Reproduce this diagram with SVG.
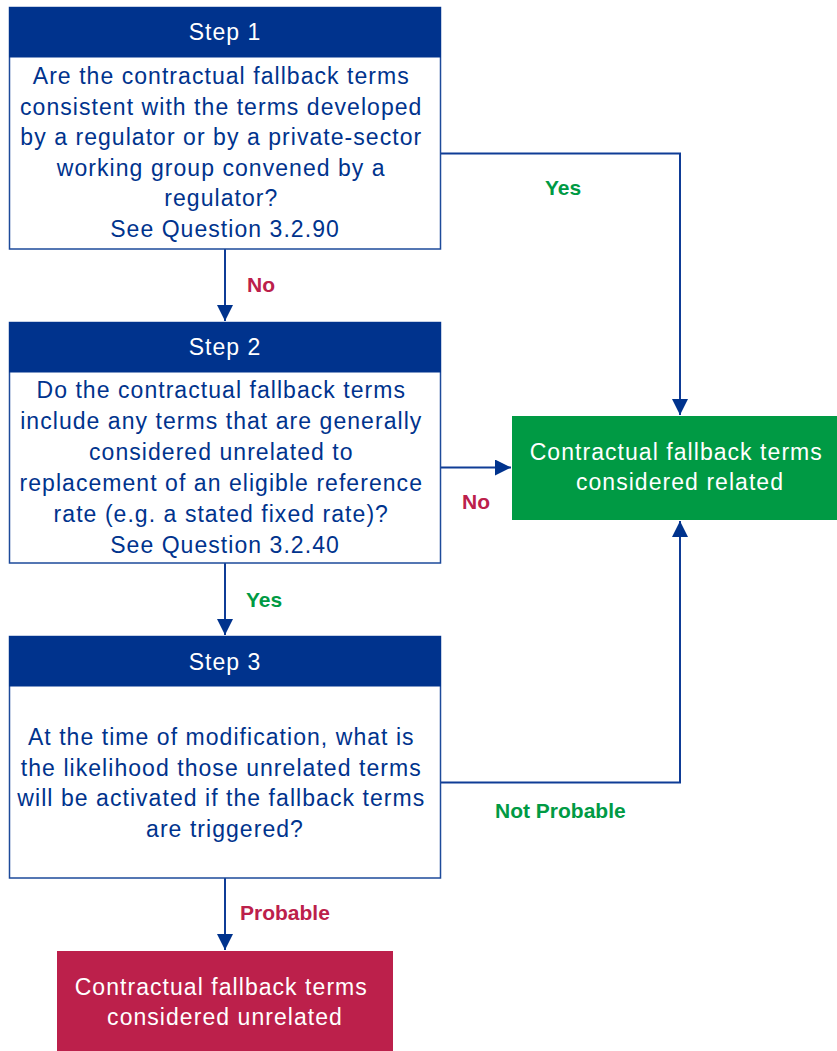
<svg xmlns="http://www.w3.org/2000/svg" width="837" height="1051" viewBox="0 0 837 1051">
  <style>
    .box { fill: #ffffff; stroke: #1d4a9a; stroke-width: 1.5; }
    .head { fill: #00338d; }
    .head-text { font-family: "Liberation Sans", Arial, sans-serif; font-size: 23px; fill: #ffffff; text-anchor: middle; letter-spacing: 1px; }
    .body-text { font-family: "Liberation Sans", Arial, sans-serif; font-size: 23px; fill: #00338d; text-anchor: middle; letter-spacing: 1.05px; }
    .out-text { font-family: "Liberation Sans", Arial, sans-serif; font-size: 23px; fill: #ffffff; text-anchor: middle; letter-spacing: 1.05px; }
    .conn { fill: none; stroke: #0f3c96; stroke-width: 2; }
    .lbl { font-family: "Liberation Sans", Arial, sans-serif; font-size: 21px; font-weight: bold; }
    .yes { fill: #009a44; }
    .no { fill: #bc204b; }
  </style>
  <defs>
    <marker id="arrow" viewBox="0 0 16 16" refX="16" refY="8" markerWidth="16" markerHeight="16" markerUnits="userSpaceOnUse" orient="auto">
      <path d="M0,0 L16,8 L0,16 Z" fill="#00338d"/>
    </marker>
  </defs>

  <g id="connectors">
    <path class="conn" d="M440,153.5 H680 V415" marker-end="url(#arrow)"/>
    <path class="conn" d="M225,249 V321" marker-end="url(#arrow)"/>
    <path class="conn" d="M440,467.5 H511" marker-end="url(#arrow)"/>
    <path class="conn" d="M225,563 V635" marker-end="url(#arrow)"/>
    <path class="conn" d="M440,782.5 H680 V521" marker-end="url(#arrow)"/>
    <path class="conn" d="M225,878 V950" marker-end="url(#arrow)"/>
  </g>

  <g id="labels">
    <text class="lbl yes" x="545" y="195">Yes</text>
    <text class="lbl no" x="247" y="292">No</text>
    <text class="lbl no" x="462" y="509">No</text>
    <text class="lbl yes" x="246" y="607">Yes</text>
    <text class="lbl yes" x="495" y="818">Not Probable</text>
    <text class="lbl no" x="240" y="920">Probable</text>
  </g>

  <g id="step1">
    <rect class="box" x="9.5" y="7.5" width="431" height="241.5"/>
    <rect class="head" x="9" y="7" width="432" height="50.5"/>
    <text class="head-text" x="225" y="40">Step 1</text>
    <text class="body-text" x="225">
      <tspan x="225" y="84">Are the contractual fallback terms</tspan>
      <tspan x="225" y="114.5">consistent with the terms developed</tspan>
      <tspan x="225" y="145">by a regulator or by a private-sector</tspan>
      <tspan x="225" y="175.5">working group convened by a</tspan>
      <tspan x="225" y="206">regulator?</tspan>
      <tspan x="225" y="236.5">See Question 3.2.90</tspan>
    </text>
  </g>

  <g id="step2">
    <rect class="box" x="9.5" y="322.5" width="431" height="240.5"/>
    <rect class="head" x="9" y="322" width="432" height="50.5"/>
    <text class="head-text" x="225" y="355">Step 2</text>
    <text class="body-text" x="225">
      <tspan x="225" y="398">Do the contractual fallback terms</tspan>
      <tspan x="225" y="429">include any terms that are generally</tspan>
      <tspan x="225" y="460">considered unrelated to</tspan>
      <tspan x="225" y="491">replacement of an eligible reference</tspan>
      <tspan x="225" y="522">rate (e.g. a stated fixed rate)?</tspan>
      <tspan x="225" y="553">See Question 3.2.40</tspan>
    </text>
  </g>

  <g id="step3">
    <rect class="box" x="9.5" y="636.5" width="431" height="241.5"/>
    <rect class="head" x="9" y="636" width="432" height="50.5"/>
    <text class="head-text" x="225" y="670">Step 3</text>
    <text class="body-text" x="225">
      <tspan x="225" y="745">At the time of modification, what is</tspan>
      <tspan x="225" y="775.5">the likelihood those unrelated terms</tspan>
      <tspan x="225" y="806">will be activated if the fallback terms</tspan>
      <tspan x="225" y="836.5">are triggered?</tspan>
    </text>
  </g>

  <g id="related">
    <rect x="512" y="416" width="325" height="104" fill="#009a44"/>
    <text class="out-text" x="680">
      <tspan x="680" y="460">Contractual fallback terms</tspan>
      <tspan x="680" y="490">considered related</tspan>
    </text>
  </g>

  <g id="unrelated">
    <rect x="57" y="951" width="336" height="100" fill="#bc204b"/>
    <text class="out-text" x="225">
      <tspan x="225" y="995">Contractual fallback terms</tspan>
      <tspan x="225" y="1025">considered unrelated</tspan>
    </text>
  </g>
</svg>
